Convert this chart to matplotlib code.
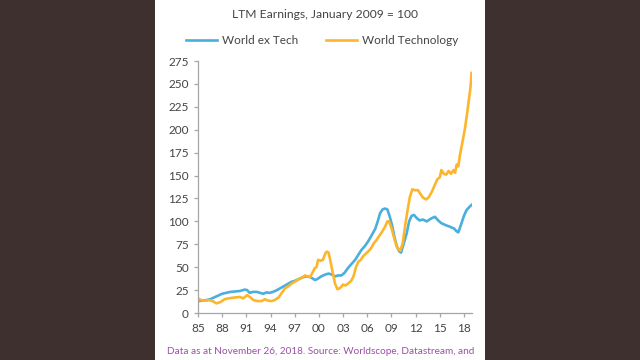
import matplotlib.pyplot as plt
from matplotlib.patches import Rectangle

plt.rcParams['font.family'] = ['Lato', 'DejaVu Sans']

# World ex Tech (LTM earnings, Jan 2009 = 100)
ex_years = [1985.0, 1985.5, 1986.0, 1986.5, 1987.0, 1987.5, 1988.0, 1988.5, 1989.0, 1989.6,
            1990.2, 1990.8, 1991.1, 1991.4, 1991.8, 1992.3, 1992.7, 1993.1, 1993.5, 1993.9,
            1994.3, 1994.8, 1995.2, 1995.6, 1996.2, 1996.6, 1997.0, 1997.5, 1998.0, 1998.5,
            1999.0, 1999.5, 1999.8, 2000.3, 2000.8, 2001.2, 2001.6, 2002.0, 2002.4, 2002.8,
            2003.2, 2003.6, 2004.0, 2004.5, 2005.0, 2005.3, 2005.7, 2006.1, 2006.5, 2007.0,
            2007.3, 2007.6, 2007.9, 2008.2, 2008.5, 2008.8, 2009.1, 2009.4, 2009.7, 2010.0,
            2010.2, 2010.5, 2010.9, 2011.2, 2011.5, 2011.8, 2012.1, 2012.5, 2012.9, 2013.4,
            2013.9, 2014.4, 2014.8, 2015.2, 2015.7, 2016.3, 2016.8, 2017.1, 2017.3, 2017.7,
            2018.0, 2018.3, 2018.6, 2018.95]
ex_vals = [13, 13.5, 14, 15, 17, 19, 21, 22, 23, 23.5,
           24, 25.5, 25, 22, 23, 23, 22, 21, 22.5, 22,
           23, 25, 27, 29, 32, 34, 35, 37, 39, 40,
           39, 36, 37, 40, 42, 43, 42, 40, 41, 41,
           44, 49, 53, 58, 65, 69, 73, 78, 84, 92,
           100, 109, 113, 114, 113, 105, 95, 82, 72, 67,
           66, 75, 87, 100, 106, 107, 104, 101, 102, 100,
           103, 105, 101, 98, 96, 94, 92, 89, 88, 98,
           106, 112, 115, 118]

# World Technology
tech_years = [1985.0, 1985.4, 1985.9, 1986.4, 1986.8, 1987.3, 1987.8, 1988.3, 1988.8, 1989.6,
              1990.2, 1990.6, 1990.9, 1991.1, 1991.5, 1991.9, 1992.4, 1992.9, 1993.3, 1993.7,
              1994.1, 1994.5, 1995.0, 1995.4, 1995.8, 1996.2, 1996.6, 1997.0, 1997.5, 1998.0,
              1998.3, 1998.6, 1998.9, 1999.2, 1999.5, 1999.7, 1999.9, 2000.2, 2000.5, 2000.8,
              2001.0, 2001.2, 2001.4, 2001.7, 2002.0, 2002.3, 2002.6, 2003.0, 2003.3, 2003.6,
              2004.0, 2004.3, 2004.6, 2004.9, 2005.2, 2005.5, 2006.1, 2006.5, 2006.8, 2007.1,
              2007.4, 2007.8, 2008.2, 2008.5, 2008.7, 2009.0, 2009.3, 2009.6, 2009.9, 2010.1,
              2010.4, 2010.7, 2011.0, 2011.3, 2011.6, 2011.9, 2012.3, 2012.6, 2012.9, 2013.3,
              2013.6, 2014.0, 2014.4, 2014.7, 2015.0, 2015.2, 2015.5, 2015.8, 2016.1, 2016.4,
              2016.7, 2016.9, 2017.1, 2017.3, 2017.5, 2017.8, 2018.1, 2018.4, 2018.6, 2018.8,
              2018.95]
tech_vals = [16, 14, 13.5, 14, 13, 10.5, 12, 15, 16, 17,
             17.5, 16, 18, 19.5, 17, 14, 13, 13, 15, 13.5,
             13, 14, 17, 22, 27, 29, 32, 34, 37, 39,
             41, 40, 39, 44, 49, 50, 58, 57, 58, 65,
             67, 66, 58, 45, 32, 26, 27, 31, 30, 32,
             35, 40, 50, 56, 58, 62, 67, 71, 76, 79,
             83, 88, 94, 100, 100, 93, 83, 74, 69, 68,
             76, 95, 112, 127, 135, 134, 134, 130, 126, 124,
             126, 132, 140, 146, 148, 156, 152, 151, 155, 152,
             156, 153, 162, 160, 172, 186, 200, 218, 232, 245,
             262]

xticks = list(range(1985, 2019, 3))
xlabels = ["85", "88", "91", "94", "97", "00", "03", "06", "09", "12", "15", "18"]
yticks = list(range(0, 276, 25))

blue = "#4aaedf"
gold = "#fdb62b"
axis_grey = "#a6a6a6"
text_col = "#444444"

fig = plt.figure(figsize=(6.4, 3.6), dpi=100)
fig.patch.set_facecolor("#3d302e")
fig.patches.append(Rectangle((155 / 640, 0), 330 / 640, 1, transform=fig.transFigure,
                             facecolor="white", edgecolor="none", zorder=-10))

ax = fig.add_axes([198 / 640, 1 - 313 / 360, 274 / 640, 252 / 360])
ax.set_facecolor("none")
l1, = ax.plot(ex_years, ex_vals, color=blue, lw=1.9, solid_joinstyle="round")
l2, = ax.plot(tech_years, tech_vals, color=gold, lw=1.9, solid_joinstyle="round")

ax.set_xlim(1985, 2019)
ax.set_ylim(0, 275)
ax.set_xticks(xticks)
ax.set_xticklabels(xlabels)
ax.set_yticks(yticks)
for s in ["top", "right"]:
    ax.spines[s].set_visible(False)
for s in ["left", "bottom"]:
    ax.spines[s].set_color(axis_grey)
    ax.spines[s].set_linewidth(0.9)
ax.tick_params(axis="both", colors=axis_grey, labelcolor=text_col, labelsize=8.5,
               length=3, width=0.9)
ax.tick_params(axis="x", pad=4)

fig.text(325 / 640, 1 - 15 / 360, "LTM Earnings, January 2009 = 100", ha="center",
         va="center", fontsize=8.7, color=text_col)
fig.legend([l1, l2], ["World ex Tech", "World Technology"], loc="center",
           bbox_to_anchor=(322 / 640, 1 - 41 / 360), ncol=2, frameon=False,
           fontsize=8.5, handlelength=2.6, handletextpad=0.4, columnspacing=2.4,
           labelcolor=text_col)
fig.text(167 / 640, 1 - 352 / 360,
         "Data as at November 26, 2018. Source: Worldscope, Datastream, and",
         ha="left", va="center", fontsize=7.2, color="#9b4fa6")

fig.savefig("out.png", dpi=100, facecolor=fig.get_facecolor())
